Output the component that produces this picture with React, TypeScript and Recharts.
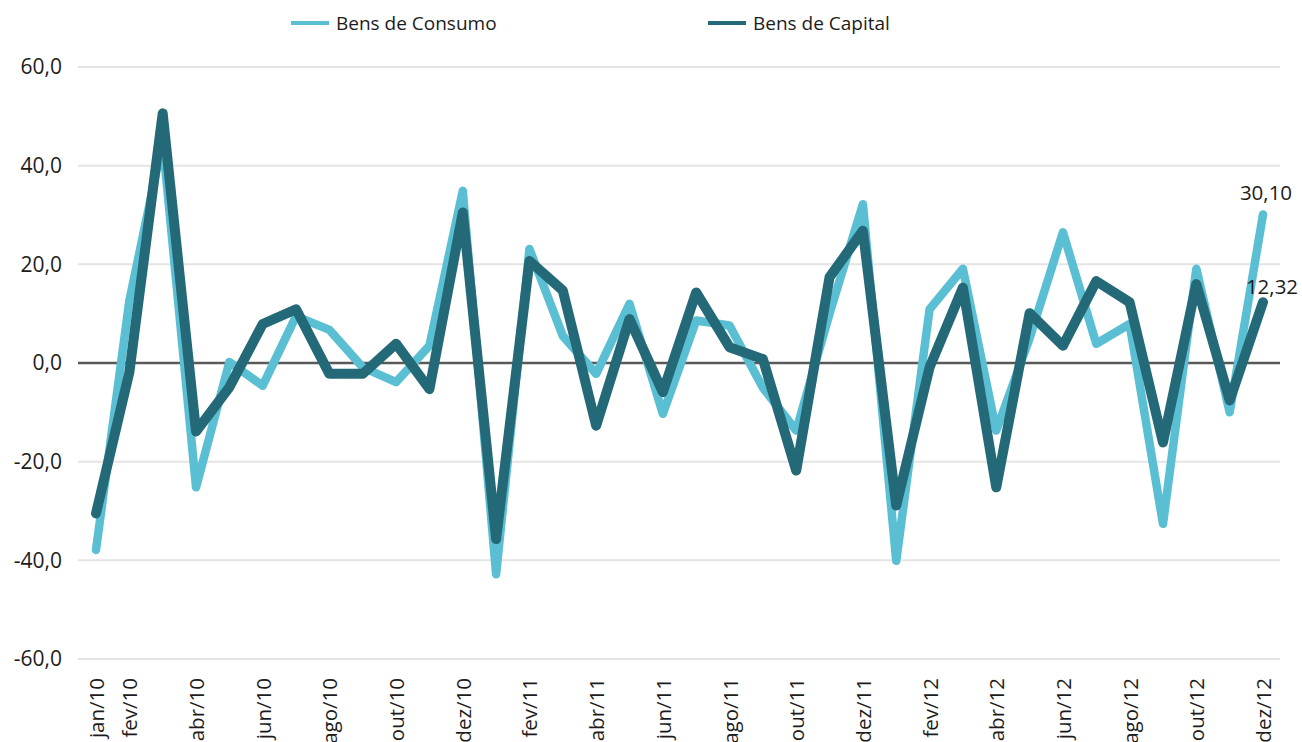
import React from 'react';
import { LineChart, Line, XAxis, YAxis, CartesianGrid, ReferenceLine, Legend } from 'recharts';

const months = [
  'jan/10', 'fev/10', 'mar/10', 'abr/10', 'mai/10', 'jun/10', 'jul/10', 'ago/10', 'set/10', 'out/10', 'nov/10', 'dez/10',
  'jan/11', 'fev/11', 'mar/11', 'abr/11', 'mai/11', 'jun/11', 'jul/11', 'ago/11', 'set/11', 'out/11', 'nov/11', 'dez/11',
  'jan/12', 'fev/12', 'mar/12', 'abr/12', 'mai/12', 'jun/12', 'jul/12', 'ago/12', 'set/12', 'out/12', 'nov/12', 'dez/12',
];

const bensConsumo = [
  -37.9, 12.6, 45.0, -25.2, 0.2, -4.6, 9.5, 6.7, -0.9, -3.9, 3.5, 34.9,
  -42.8, 23.1, 5.5, -2.2, 12.0, -10.3, 8.6, 7.6, -5.0, -13.7, 10.0, 32.2,
  -40.1, 10.9, 19.1, -13.7, 5.0, 26.5, 3.9, 7.9, -32.6, 19.1, -10.0, 30.10,
];

const bensCapital = [
  -30.5, -1.9, 50.6, -13.9, -4.9, 7.9, 10.9, -2.2, -2.2, 3.9, -5.3, 30.5,
  -35.7, 20.7, 14.7, -12.7, 8.9, -5.9, 14.3, 3.2, 0.8, -21.8, 17.4, 26.8,
  -28.9, -0.9, 15.3, -25.2, 10.1, 3.5, 16.6, 12.3, -16.1, 16.0, -7.6, 12.32,
];

const tickLabels = [
  'jan/10', 'fev/10', 'abr/10', 'jun/10', 'ago/10', 'out/10', 'dez/10',
  'fev/11', 'abr/11', 'jun/11', 'ago/11', 'out/11', 'dez/11',
  'fev/12', 'abr/12', 'jun/12', 'ago/12', 'out/12', 'dez/12',
];

const yTicks = [-60, -40, -20, 0, 20, 40, 60];

const seriesNames = ['Bens de Consumo', 'Bens de Capital'];
const seriesColors = ['#5bbfd4', '#246977'];

const data = months.map((m, i) => ({
  month: m,
  consumo: bensConsumo[i],
  capital: bensCapital[i],
}));

const FONT = '"Open Sans", sans-serif';
const TEXT = '#1c1c1c';
const last = months.length - 1;

const fmt1 = (v: number) => v.toFixed(1).replace('.', ',');
const fmt2 = (v: number) => v.toFixed(2).replace('.', ',');

const XTick = (props: any) => {
  const { x, y, payload } = props;
  if (!tickLabels.includes(payload.value)) return <g />;
  return (
    <text
      x={x}
      y={y}
      transform={`rotate(-90 ${x} ${y})`}
      textAnchor="end"
      dominantBaseline="central"
      fontSize={20.5}
      fontFamily={FONT}
      fill={TEXT}
    >
      {payload.value}
    </text>
  );
};

const makeEndLabel = (dx: number, dy: number) => (props: any) => {
  const { x, y, index, value } = props;
  if (index !== last) return <g />;
  return (
    <text
      x={x + dx}
      y={y + dy}
      textAnchor="middle"
      dominantBaseline="central"
      fontSize={20.5}
      fontFamily={FONT}
      fill={TEXT}
    >
      {fmt2(value)}
    </text>
  );
};

const legendLefts = [291, 708];

const renderLegend = () => (
  <div style={{ position: 'relative', width: 1302, height: 45 }}>
    {seriesNames.map((name, i) => (
      <div
        key={name}
        style={{
          position: 'absolute',
          left: legendLefts[i],
          top: 0,
          height: 45,
          display: 'flex',
          alignItems: 'center',
          fontFamily: FONT,
          fontSize: 19,
          color: TEXT,
          whiteSpace: 'nowrap',
        }}
      >
        <span style={{ display: 'inline-block', width: 38, height: 4, background: seriesColors[i], marginRight: 7 }} />
        <span>{name}</span>
      </div>
    ))}
  </div>
);

export default function App() {
  return (
    <div style={{ position: 'absolute', left: 0, top: 0, width: 1302, height: 742, background: '#fff' }}>
      <LineChart width={1302} height={742} data={data} margin={{ top: 22, right: 22, bottom: 0, left: 0 }}>
        <Legend
          verticalAlign="top"
          align="left"
          content={renderLegend}
          wrapperStyle={{ left: 0, top: 0, width: 1302, height: 45, margin: 0, padding: 0 }}
        />
        <CartesianGrid vertical={false} stroke="#e4e4e4" strokeWidth={2} />
        <XAxis
          dataKey="month"
          interval={0}
          axisLine={false}
          tickLine={false}
          tickSize={0}
          tickMargin={19}
          height={83}
          padding={{ left: 18, right: 17 }}
          tick={<XTick />}
        />
        <YAxis
          domain={[-60, 60]}
          ticks={yTicks}
          width={78}
          axisLine={false}
          tickLine={false}
          tickSize={0}
          tickMargin={16}
          tickFormatter={fmt1}
          tick={{ fontSize: 21, fontFamily: FONT, fill: TEXT }}
          allowDataOverflow
        />
        <ReferenceLine y={0} stroke="#595959" strokeWidth={2.5} />
        <Line
          type="linear"
          dataKey="consumo"
          name={seriesNames[0]}
          stroke={seriesColors[0]}
          strokeWidth={8.5}
          strokeLinecap="round"
          strokeLinejoin="round"
          dot={false}
          activeDot={false}
          isAnimationActive={false}
          label={makeEndLabel(3, -23)}
        />
        <Line
          type="linear"
          dataKey="capital"
          name={seriesNames[1]}
          stroke={seriesColors[1]}
          strokeWidth={10}
          strokeLinecap="round"
          strokeLinejoin="round"
          dot={false}
          activeDot={false}
          isAnimationActive={false}
          label={makeEndLabel(9, -16)}
        />
      </LineChart>
    </div>
  );
}
